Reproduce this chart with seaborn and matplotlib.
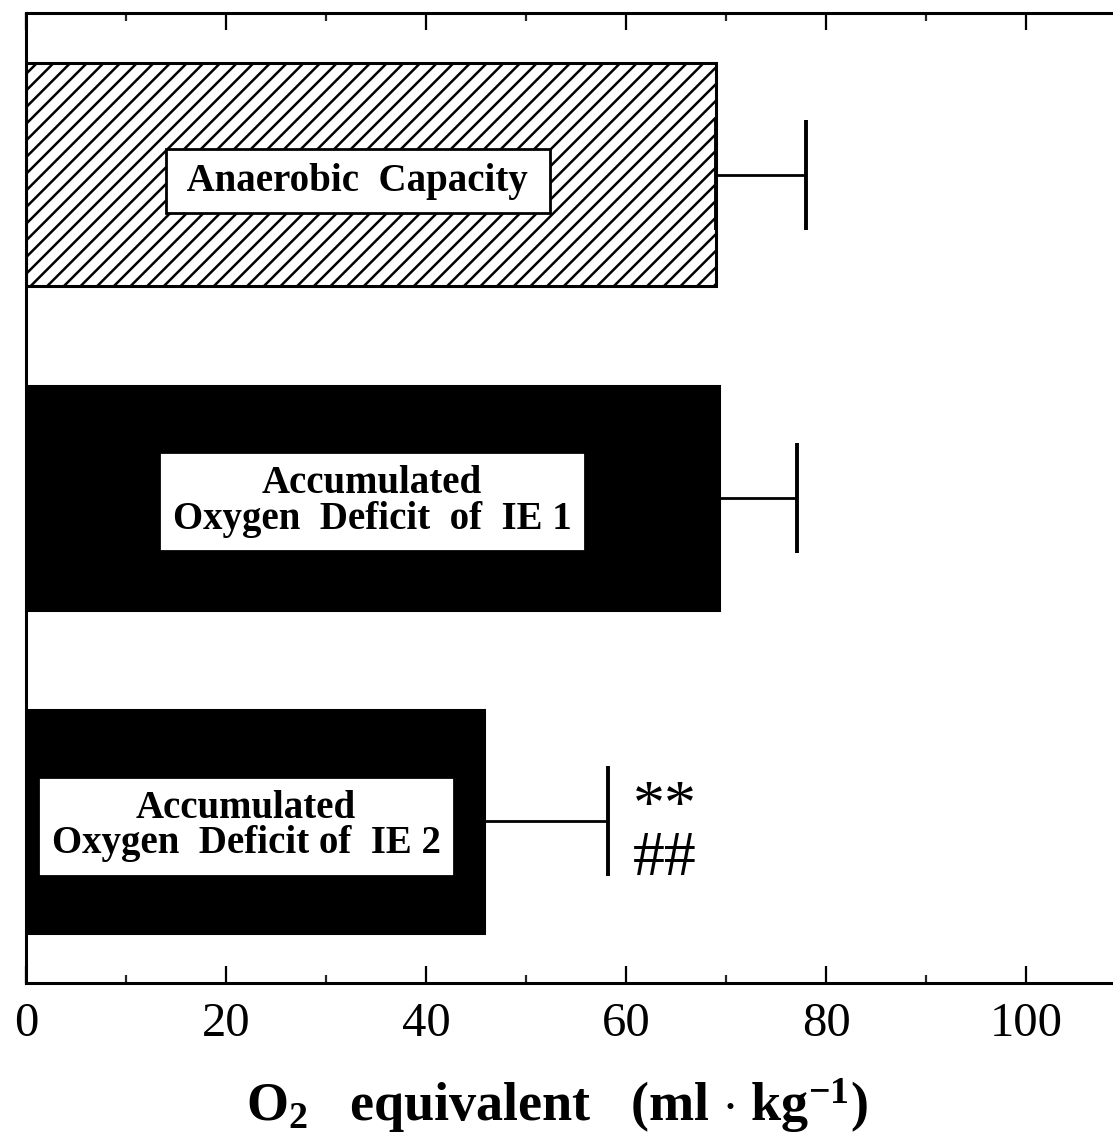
import numpy as np
import pandas as pd
import matplotlib
matplotlib.use("Agg")
import matplotlib.pyplot as plt
import seaborn as sns

# ---- data ----
categories = ["Anaerobic Capacity", "AOD IE 1", "AOD IE 2"]
values = [69.0, 69.3, 45.8]
errors = [9.0, 7.8, 12.4]
box_labels = [" Anaerobic  Capacity ",
              "Accumulated\nOxygen  Deficit  of  IE 1",
              "Accumulated\nOxygen  Deficit of  IE 2"]
box_x = [33.2, 34.6, 22.0]
box_y = [0.02, 1.01, 2.015]
x_ticks = [0, 20, 40, 60, 80, 100]
x_tick_labels = ["0", "20", "40", "60", "80", "100"]

sns.set_theme(style="white")
plt.rcParams["font.family"] = ["Liberation Serif", "DejaVu Serif"]
plt.rcParams["mathtext.fontset"] = "custom"
plt.rcParams["mathtext.rm"] = "Liberation Serif:bold"
plt.rcParams["mathtext.bf"] = "Liberation Serif:bold"
plt.rcParams["mathtext.default"] = "bf"
plt.rcParams["hatch.linewidth"] = 1.8
plt.rcParams["hatch.color"] = "black"

fig = plt.figure(figsize=(11.13, 11.35), dpi=100)
ax = fig.add_axes([26 / 1113, 152 / 1135, 1150 / 1113, 970 / 1135])

df = pd.DataFrame({"cat": categories, "val": values})
sns.barplot(data=df, x="val", y="cat", hue="cat", orient="h",
            palette=["white", "black", "black"], legend=False,
            width=0.69, edgecolor="black", linewidth=2.2, saturation=1, ax=ax)
ax.patches[0].set_hatch("//")

ax.errorbar(values, np.arange(len(values)), xerr=[np.zeros(len(values)), errors],
            fmt="none", ecolor="black", elinewidth=2.0, capsize=39.5, capthick=2.8)

for lab, bx, by in zip(box_labels, box_x, box_y):
    ax.text(bx, by, lab, ha="center", va="center", fontsize=28, fontweight="bold",
            linespacing=0.95, color="black",
            bbox=dict(boxstyle="square,pad=0.34", facecolor="white",
                      edgecolor="black", linewidth=2))

ax.text(63.9, 2.04, "**\n##", ha="center", va="center", fontsize=46,
        linespacing=0.85, color="black")

ax.set_xlim(0, 115)
ax.set_ylim(2.5, -0.5)
ax.set_xticks(x_ticks)
ax.set_xticklabels(x_tick_labels, fontsize=35)
ax.set_xticks(np.arange(10, 115, 20), minor=True)
ax.tick_params(axis="x", which="major", direction="in", length=12, width=1.6,
               top=True, bottom=True, pad=14, colors="black")
ax.tick_params(axis="x", which="minor", direction="in", length=6, width=1.6,
               top=True, bottom=True)
ax.set_yticks([])
ax.set_ylabel("")
for s in ax.spines.values():
    s.set_linewidth(2.2)
    s.set_color("black")

ax.set_xlabel(r"O$_{2}$   equivalent   (ml $\cdot$ kg$^{-1}$)", fontsize=39,
              fontweight="bold", color="black")
ax.xaxis.set_label_coords(0.462, -0.096)

fig.savefig("out.png", dpi=100)
